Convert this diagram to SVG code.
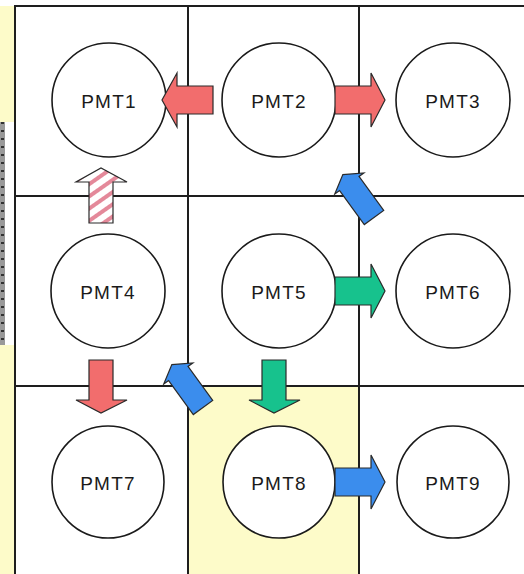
<svg xmlns="http://www.w3.org/2000/svg" width="524" height="574" viewBox="0 0 524 574">
  <defs>
    <pattern id="stripes" patternUnits="userSpaceOnUse" width="10" height="10" patternTransform="rotate(-35)">
      <rect width="10" height="10" fill="#ffffff"/>
      <rect width="10" height="4" fill="#e4899a"/>
    </pattern>
    <style>
      .grid { stroke: #1e1e1e; stroke-width: 2; fill: none; }
      .node circle { fill: #ffffff; stroke: #1a1a1a; stroke-width: 1.6; }
      .node text { font-family: "Liberation Sans", Arial, sans-serif; font-size: 19px; letter-spacing: 1.2px; fill: #1a1a1a; text-anchor: middle; }
      .arrow { stroke: #2a2a2a; stroke-width: 1.2; stroke-linejoin: miter; }
      .red { fill: #f26d6d; }
      .green { fill: #17c28d; }
      .blue { fill: #3b8ded; }
      .striped { fill: url(#stripes); }
    </style>
  </defs>

  <!-- background -->
  <rect x="0" y="0" width="524" height="574" fill="#ffffff"/>
  <rect x="0" y="6" width="15" height="568" fill="#fdfbc9"/>
  <rect x="0" y="122" width="15" height="223" fill="#ffffff"/>
  <rect x="0" y="122" width="5" height="223" fill="#9a9a9a"/>
  <line x1="2.5" y1="122" x2="2.5" y2="345" stroke="#333333" stroke-width="3" stroke-dasharray="2 6"/>
  <rect x="188" y="386" width="171" height="188" fill="#fdfbc9"/>

  <!-- grid -->
  <g id="grid" class="grid">
    <line x1="14" y1="6" x2="524" y2="6"/>
    <line x1="15" y1="5" x2="15" y2="574"/>
    <line x1="188" y1="6" x2="188" y2="574"/>
    <line x1="359" y1="6" x2="359" y2="574"/>
    <line x1="15" y1="196" x2="524" y2="196"/>
    <line x1="15" y1="386" x2="524" y2="386"/>
  </g>

  <!-- nodes -->
  <g id="PMT1" class="node"><circle cx="109" cy="100" r="57"/><text x="109" y="108">PMT1</text></g>
  <g id="PMT2" class="node"><circle cx="279" cy="100" r="57"/><text x="279" y="108">PMT2</text></g>
  <g id="PMT3" class="node"><circle cx="453" cy="100" r="57"/><text x="453" y="108">PMT3</text></g>
  <g id="PMT4" class="node"><circle cx="108" cy="291" r="57"/><text x="108" y="299">PMT4</text></g>
  <g id="PMT5" class="node"><circle cx="279" cy="291" r="57"/><text x="279" y="299">PMT5</text></g>
  <g id="PMT6" class="node"><circle cx="453" cy="291" r="57"/><text x="453" y="299">PMT6</text></g>
  <g id="PMT7" class="node"><circle cx="108" cy="482" r="56"/><text x="108" y="490">PMT7</text></g>
  <g id="PMT8" class="node"><circle cx="279" cy="482" r="56"/><text x="279" y="490">PMT8</text></g>
  <g id="PMT9" class="node"><circle cx="453" cy="482" r="56"/><text x="453" y="490">PMT9</text></g>

  <!-- connectors -->
  <g id="connectors">
    <!-- PMT2 -> PMT1 -->
    <polygon class="arrow red" points="213,86 177,86 177,73 162,100 177,127 177,114 213,114"/>
    <!-- PMT2 -> PMT3 -->
    <polygon class="arrow red" points="335,86 371,86 371,73 385,100 371,127 371,114 335,114"/>
    <!-- PMT4 -> PMT1 (striped) -->
    <polygon class="arrow striped" points="89,223 89,182 76,182 101,168 127,182 113,182 113,223"/>
    <!-- PMT6 -> PMT2 (diagonal) -->
    <polygon class="arrow blue" transform="translate(374,217.5) rotate(-126)" points="0,-12 42,-12 42,-18 53,0 42,18 42,12 0,12"/>
    <!-- PMT5 -> PMT6 -->
    <polygon class="arrow green" points="335,277 371,277 371,264 385,291 371,318 371,305 335,305"/>
    <!-- PMT4 -> PMT7 -->
    <polygon class="arrow red" points="89,360 89,400 76,400 101,413 127,400 113,400 113,360"/>
    <!-- PMT8 -> PMT4 (diagonal) -->
    <polygon class="arrow blue" transform="translate(203,407.5) rotate(-126)" points="0,-12 42,-12 42,-18 53,0 42,18 42,12 0,12"/>
    <!-- PMT5 -> PMT8 -->
    <polygon class="arrow green" points="262,360 262,400 249,400 274,413 300,400 286,400 286,360"/>
    <!-- PMT8 -> PMT9 -->
    <polygon class="arrow blue" points="335,468 371,468 371,455 385,482 371,509 371,496 335,496"/>
  </g>
</svg>
